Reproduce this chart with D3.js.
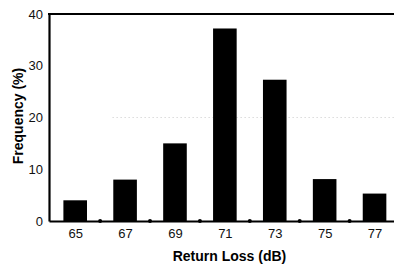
<!DOCTYPE html>
<html><head><meta charset="utf-8">
<script src="https://cdn.jsdelivr.net/npm/d3@7"></script>
<style>body{margin:0;background:#fff}svg{display:block}</style>
</head><body>
<svg id="c" width="394" height="265"></svg>
<script>
const categories = [65, 67, 69, 71, 73, 75, 77];
const frequency = [4, 8, 15, 37.2, 27.3, 8.1, 5.3];
const yTicks = [0, 10, 20, 30, 40];
const minorX = [66, 68, 70, 72, 74, 76];

const svg = d3.select("#c");
const L = 49, R = 394, T = 14, B = 221;
const x = d3.scaleLinear().domain([63.95, 77.78]).range([L, R]);
const y = d3.scaleLinear().domain([0, 40]).range([B, T]);
const tickFont = "'Liberation Sans Narrow','Arial Narrow',Arial,sans-serif";

// faint dotted gridline at 20
svg.append("line").attr("x1", x(66.5)).attr("x2", R).attr("y1", y(20)).attr("y2", y(20))
  .attr("stroke", "#bbb").attr("stroke-width", 0.8).attr("stroke-dasharray", "1,3");

// bars
svg.selectAll("rect.bar").data(categories).join("rect")
  .attr("x", d => x(d) - 11.8)
  .attr("width", 23.6)
  .attr("y", (d, i) => y(frequency[i]))
  .attr("height", (d, i) => y(0) - y(frequency[i]))
  .attr("fill", "#000");

// axes lines
const yAxis = d3.axisLeft(y).tickValues(yTicks).tickSize(0).tickPadding(6);
const gy = svg.append("g").attr("transform", `translate(${L},0)`).call(yAxis);
gy.select(".domain").attr("stroke-width", 2.2);
gy.selectAll("text").attr("font-family", tickFont).attr("font-size", 13).attr("fill", "#111");

const xAxis = d3.axisBottom(x).tickValues(categories).tickSize(0).tickPadding(8).tickFormat(d3.format("d"));
const gx = svg.append("g").attr("transform", `translate(0,${B})`).call(xAxis);
gx.select(".domain").attr("stroke-width", 2.2);
gx.selectAll("text").attr("font-family", tickFont).attr("font-size", 13).attr("fill", "#111");

// top border
svg.append("line").attr("x1", L - 1).attr("x2", R).attr("y1", T).attr("y2", T)
  .attr("stroke", "#000").attr("stroke-width", 2.2);

// minor tick dots on x axis
svg.selectAll("circle.m").data(minorX).join("circle")
  .attr("cx", d => x(d)).attr("cy", B).attr("r", 2).attr("fill", "#000");

// axis titles
svg.append("text").attr("x", 229.5).attr("y", 261).attr("text-anchor", "middle")
  .attr("font-family", "Arial,'Liberation Sans',sans-serif").attr("font-weight", "bold")
  .attr("font-size", 14).text("Return Loss (dB)");
svg.append("text").attr("transform", "translate(23,116) rotate(-90)").attr("text-anchor", "middle")
  .attr("font-family", "Arial,'Liberation Sans',sans-serif").attr("font-weight", "bold")
  .attr("font-size", 14).text("Frequency (%)");
</script>
</body></html>
